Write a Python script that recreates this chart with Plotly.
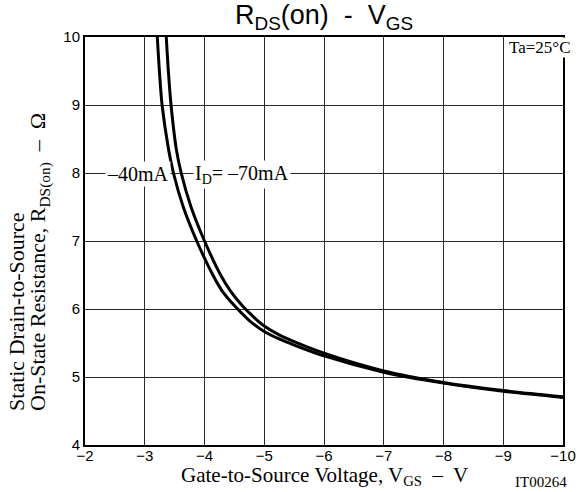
import plotly.graph_objects as go

# -40 mA curve (VGS, RDS(on))
v40 = [-3.21, -3.245, -3.29, -3.40, -3.48, -3.645, -3.87, -4.14, -4.30, -4.50, -4.75, -5.0, -5.25, -5.5, -6.0, -7.0, -8.0, -9.0, -10.0]
r40 = [10.0, 9.5, 9.0, 8.34, 8.0, 7.5, 7.0, 6.5, 6.26, 6.05, 5.83, 5.67, 5.56, 5.47, 5.31, 5.07, 4.91, 4.79, 4.70]
# -70 mA curve
v70 = [-3.36, -3.395, -3.44, -3.53, -3.61, -3.775, -4.0, -4.27, -4.43, -4.63, -4.85, -5.0, -5.25, -5.5, -6.0, -7.0, -8.0, -9.0, -10.0]
r70 = [10.0, 9.5, 9.0, 8.34, 8.0, 7.5, 7.0, 6.5, 6.27, 6.05, 5.86, 5.75, 5.62, 5.52, 5.35, 5.09, 4.92, 4.80, 4.71]

x_ticks = [-2, -3, -4, -5, -6, -7, -8, -9, -10]
y_ticks = [4, 5, 6, 7, 8, 9, 10]

SERIF = "Liberation Serif, Times New Roman, serif"
SANS = "Liberation Sans, Arial, sans-serif"

fig = go.Figure()
for v, r in [(v40, r40), (v70, r70)]:
    fig.add_trace(go.Scatter(x=v, y=r, mode="lines",
                             line=dict(color="black", width=3, shape="spline", smoothing=0.8),
                             showlegend=False, hoverinfo="skip"))

axis_common = dict(showgrid=True, gridcolor="#2a2a2a", gridwidth=1,
                   showline=True, linecolor="black", linewidth=2, mirror=True,
                   zeroline=False, ticks="", tickfont=dict(family=SANS, size=15, color="black"))

fig.update_xaxes(range=[-2, -10], tickvals=x_ticks, ticklabelstandoff=-4,
                 ticktext=["\u2212" + str(abs(t)) for t in x_ticks], **axis_common)
fig.update_yaxes(range=[4, 10], tickvals=y_ticks, ticklabelstandoff=0,
                 ticktext=[str(t) for t in y_ticks], **axis_common)

ann = []
# Title
ann.append(dict(text="R<sub>DS</sub>(on)  -  V<sub>GS</sub>", xref="paper", yref="paper",
                x=0.5, y=1.0, yshift=20, xanchor="center", yanchor="middle", showarrow=False,
                font=dict(family=SANS, size=27, color="black")))
# X axis title
ann.append(dict(text="Gate-to-Source Voltage, V<sub>GS</sub>  \u2013  V", xref="paper", yref="paper",
                x=0.5, y=0, yshift=-31, xanchor="center", yanchor="middle", showarrow=False,
                font=dict(family=SERIF, size=21, color="black")))
# Y axis title, two lines, bottom aligned
ann.append(dict(text="Static Drain-to-Source", xref="paper", yref="paper",
                x=-0.1434, y=0.0784, xanchor="center", yanchor="bottom", textangle=-90,
                showarrow=False, font=dict(family=SERIF, size=22, color="black")))
ann.append(dict(text="On-State Resistance, R<sub>DS(on)</sub>  \u2013  \u03a9", xref="paper", yref="paper",
                x=-0.0963, y=0.0784, xanchor="center", yanchor="bottom", textangle=-90,
                showarrow=False, font=dict(family=SERIF, size=22, color="black")))
# code
ann.append(dict(text="IT00264", xref="paper", yref="paper", x=0.955, y=0, yshift=-37,
                xanchor="center", yanchor="middle", showarrow=False,
                font=dict(family=SERIF, size=15, color="black")))
# Ta
ann.append(dict(text="Ta=25\u00b0C", xref="x", yref="y", x=-9.6, y=9.84,
                xanchor="center", yanchor="middle", showarrow=False, bgcolor="white",
                borderpad=0, font=dict(family=SERIF, size=17, color="black")))
# current labels
ann.append(dict(text="\u201340mA", xref="x", yref="y", x=-2.88, y=7.98,
                xanchor="center", yanchor="middle", showarrow=False, bgcolor="white",
                font=dict(family=SERIF, size=20, color="black")))
ann.append(dict(text="I<sub>D</sub>= \u201370mA", xref="x", yref="y", x=-4.62, y=7.98,
                xanchor="center", yanchor="middle", showarrow=False, bgcolor="white",
                font=dict(family=SERIF, size=20, color="black")))

fig.update_layout(width=588, height=492, margin=dict(l=85, r=15, t=37, b=47),
                  plot_bgcolor="white", paper_bgcolor="white", annotations=ann)

fig.write_html("out.html")
